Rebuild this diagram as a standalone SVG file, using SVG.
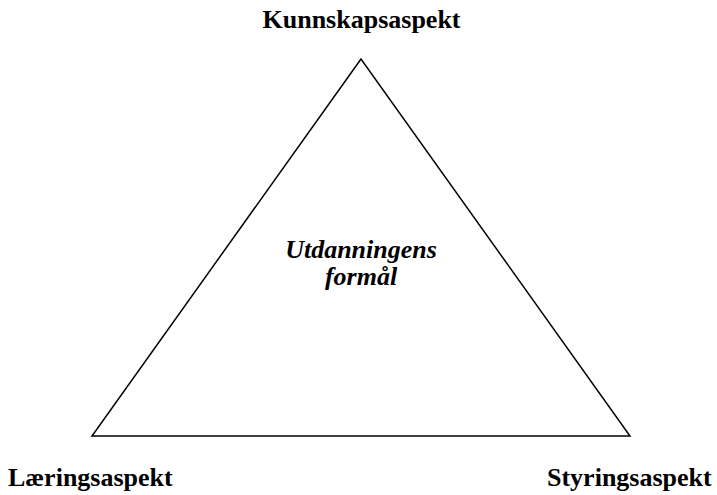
<svg xmlns="http://www.w3.org/2000/svg" width="717" height="495" viewBox="0 0 717 495">
<style>
.lbl{font-family:"Liberation Serif","Times New Roman",serif;font-size:26px;font-weight:bold;fill:#000}
.ctr{font-style:italic;text-anchor:middle}
.edge{fill:none;stroke:#000;stroke-width:1.5}
</style>
<rect width="717" height="495" fill="#fff"/>
<g id="connectors">
<polygon class="edge" points="361,59 92,436 630,436"/>
</g>
<g id="kunnskap"><text class="lbl" x="361.5" y="28" text-anchor="middle">Kunnskapsaspekt</text></g>
<g id="laering"><text class="lbl" x="8" y="486">Læringsaspekt</text></g>
<g id="styring"><text class="lbl" x="547" y="486">Styringsaspekt</text></g>
<g id="formaal"><text class="lbl ctr" x="361" y="258">Utdanningens</text><text class="lbl ctr" x="361" y="285">formål</text></g>
</svg>
